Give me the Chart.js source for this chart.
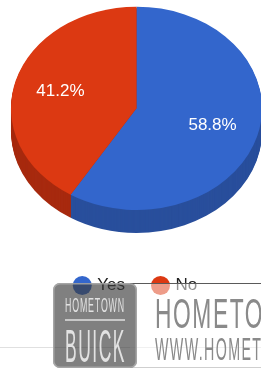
<!DOCTYPE html>
<html>
<head>
<meta charset="utf-8">
<script src="https://cdn.jsdelivr.net/npm/chart.js@4"></script>
<style>
    body { margin: 0; background: #fff; }
    #wrap { position: relative; width: 261px; height: 369px; overflow: hidden; }
    #chart { position: absolute; left: 0; top: 0; }
    .rule { position: absolute; left: 0; top: 347px; width: 261px; height: 1px; background: #e0e0e0; }
    .plate {
        position: absolute; left: 130px; top: 283px; width: 140px; height: 83px;
        background: rgba(255, 255, 255, 0.5);
        border-top: 1px solid #5a5a5a; border-bottom: 1px solid #cfcfcf;
    }
    .badge {
        position: absolute; left: 53px; top: 283px; width: 84px; height: 85px;
        border-radius: 7px; background: rgba(60, 60, 60, 0.65);
        box-shadow: inset 0 0 0 1.5px rgba(175, 175, 175, 0.8);
    }
    .logo-text {
        position: absolute; white-space: nowrap; font-family: "Liberation Sans", Arial, sans-serif;
        transform-origin: 0 0; margin: 0;
    }
    .small { left: 12px; top: 11px; font-size: 21px; line-height: 21px; color: #e2e2e2; letter-spacing: 2px; transform: scaleX(0.42); }
    .bar { position: absolute; left: 12px; top: 36px; width: 60px; height: 1.5px; background: #c8c8c8; }
    .big { left: 12px; top: 40px; font-size: 46px; line-height: 46px; color: #e2e2e2; letter-spacing: 4px; transform: scaleX(0.38); }
    .name { left: 25px; top: 8px; font-size: 43px; line-height: 43px; color: #8a8a8a; letter-spacing: 3px; transform: scaleX(0.53); }
    .url { left: 25px; top: 50px; font-size: 31px; line-height: 31px; color: #8a8a8a; letter-spacing: 3px; transform: scaleX(0.46); }
</style>
</head>
<body>
<div id="wrap">
    <canvas id="chart" width="261" height="369"></canvas>
    <div class="rule"></div>
    <div class="plate">
        <span class="logo-text name">HOMETOWN</span>
        <span class="logo-text url">WWW.HOMETOWN</span>
    </div>
    <div class="badge">
        <span class="logo-text small">HOMETOWN</span>
        <div class="bar"></div>
        <span class="logo-text big">BUICK</span>
    </div>
</div>
<script>
const answers = ['Yes', 'No'];
const shares = [58.8, 41.2];
const topColors = ['#3366cc', '#dc3912'];
const sideColors = ['#294f9c', '#a72a0f'];

const tilt = 0.81;       // how flat the pie looks
const depth = 23;        // side thickness in px
const centerY = 108.3;   // where the pie centre ends up on screen

function squash(ctx, arc) {
    ctx.translate(0, centerY);
    ctx.scale(1, tilt);
    ctx.translate(0, -arc.y);
}

// fake 3D: stack darker copies under the pie, then flatten everything
const pie3d = {
    id: 'pie3d',
    beforeDatasetsDraw(chart) {
        const ctx = chart.ctx;
        const arcs = chart.getDatasetMeta(0).data;
        for (let d = depth; d > 0; d--) {
            ctx.save();
            ctx.translate(0, d);
            squash(ctx, arcs[0]);
            arcs.forEach((a, i) => {
                ctx.beginPath();
                ctx.moveTo(a.x, a.y);
                ctx.arc(a.x, a.y, a.outerRadius, a.startAngle, a.endAngle);
                ctx.closePath();
                ctx.fillStyle = sideColors[i];
                ctx.fill();
            });
            ctx.restore();
        }
        ctx.save();
        squash(ctx, arcs[0]);
    },
    afterDatasetsDraw(chart) {
        const ctx = chart.ctx;
        ctx.restore();
        const arcs = chart.getDatasetMeta(0).data;
        ctx.save();
        ctx.fillStyle = '#fff';
        ctx.font = '17px "Liberation Sans", Arial, sans-serif';
        ctx.textAlign = 'center';
        ctx.textBaseline = 'middle';
        arcs.forEach((a, i) => {
            const mid = (a.startAngle + a.endAngle) / 2;
            const r = a.outerRadius * 0.63;
            const x = a.x + Math.cos(mid) * r;
            const y = centerY + Math.sin(mid) * r * tilt;
            ctx.fillText(shares[i].toFixed(1) + '%', x, y);
        });
        ctx.restore();
    }
};

Chart.defaults.font.family = '"Liberation Sans", Arial, sans-serif';

var ctx = document.getElementById('chart').getContext('2d');
var myChart = new Chart(ctx, {
    type: 'pie',
    data: {
        labels: answers,
        datasets: [{
            data: shares,
            backgroundColor: topColors,
            borderWidth: 0,
            clip: false
        }]
    },
    options: {
        responsive: false,
        animation: false,
        radius: 125.5,
        layout: { padding: { left: 12, right: 0, top: 0, bottom: 65 } },
        plugins: {
            legend: {
                position: 'bottom',
                labels: {
                    usePointStyle: true,
                    pointStyle: 'circle',
                    boxWidth: 13,
                    boxHeight: 13.4,
                    padding: 29,
                    color: '#222',
                    font: { size: 17 }
                }
            },
            tooltip: { enabled: false }
        }
    },
    plugins: [pie3d]
});
</script>
</body>
</html>
